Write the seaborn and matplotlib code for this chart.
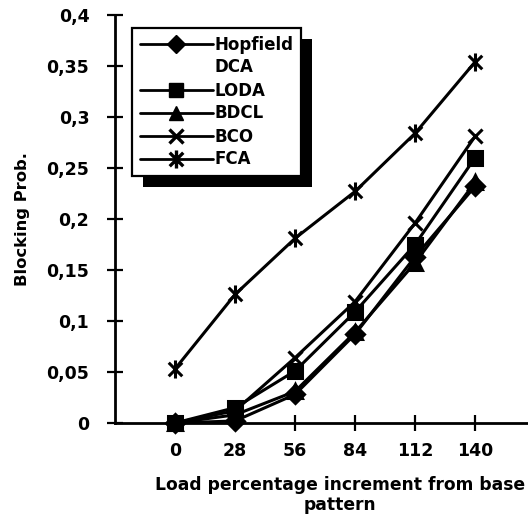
import matplotlib
matplotlib.use('Agg')
import matplotlib.pyplot as plt
import seaborn as sns
from matplotlib.lines import Line2D
from matplotlib.patches import Rectangle
from matplotlib.path import Path
from matplotlib.transforms import IdentityTransform

# ---- data ----
loads = [0, 28, 56, 84, 112, 140]
hopfield_dca = [0.000, 0.002, 0.028, 0.087, 0.163, 0.232]
loda = [0.000, 0.015, 0.051, 0.109, 0.175, 0.260]
bdcl = [0.000, 0.008, 0.031, 0.089, 0.157, 0.236]
bco = [0.000, 0.012, 0.064, 0.119, 0.196, 0.281]
fca = [0.053, 0.126, 0.181, 0.227, 0.284, 0.354]
y_ticks = [0, 0.05, 0.1, 0.15, 0.2, 0.25, 0.3, 0.35, 0.4]
y_tick_labels = ["0", "0,05", "0,1", "0,15", "0,2", "0,25", "0,3", "0,35", "0,4"]

sns.set_theme(style='white')
plt.rcParams['font.family'] = ['DejaVu Sans']
plt.rcParams['text.color'] = 'black'
plt.rcParams['axes.labelcolor'] = 'black'
plt.rcParams['xtick.color'] = 'black'
plt.rcParams['ytick.color'] = 'black'

fig = plt.figure(figsize=(5.28, 5.19), dpi=100)
ax = fig.add_axes([115 / 528, 96 / 519, 413 / 528, 408 / 519])

star = Path([(0, -1), (0, 1), (-0.75, -0.75), (0.75, 0.75), (-0.75, 0.75), (0.75, -0.75)],
            [Path.MOVETO, Path.LINETO, Path.MOVETO, Path.LINETO, Path.MOVETO, Path.LINETO])

series = [
    ("Hopfield DCA", hopfield_dca, 'D', 9),
    ("LODA", loda, 's', 9.5),
    ("BDCL", bdcl, '^', 10.5),
    ("BCO", bco, 'x', 10.5),
    ("FCA", fca, star, 13),
]
for name, vals, mk, ms in series:
    kw = dict(marker=mk, markersize=ms, markeredgewidth=2.2, markeredgecolor='black')
    if mk == 'x' or mk is star:
        kw['markerfacecolor'] = 'none'
    else:
        kw['markerfacecolor'] = 'black'
    sns.lineplot(x=loads, y=vals, color='black', linewidth=2.2, ax=ax, clip_on=False, **kw)

ax.set_xlim(-28, 164.7)
ax.set_ylim(0, 0.4)
ax.set_xticks(loads)
ax.set_xticklabels([str(v) for v in loads], fontsize=12.5, fontweight='bold')
ax.set_yticks(y_ticks)
ax.set_yticklabels(y_tick_labels, fontsize=12.5, fontweight='bold')
ax.tick_params(bottom=True, left=True, direction='inout', length=11, width=1.6, color='black')
ax.tick_params(axis='y', pad=13)
ax.tick_params(axis='x', pad=8)
for s in ['top', 'right']:
    ax.spines[s].set_visible(False)
for s in ['left', 'bottom']:
    ax.spines[s].set_color('black')
    ax.spines[s].set_linewidth(2)

ax.set_ylabel("Blocking Prob.", fontsize=11.8, fontweight='bold')
ax.yaxis.set_label_coords((30 - 115) / 413, 0.5)
ax.set_xlabel("Load percentage increment from base\npattern", fontsize=12.3,
              fontweight='bold', linespacing=1.15)
ax.xaxis.set_label_coords(0.545, -0.13)

handles = [
    Line2D([], [], color='black', lw=2, marker='D', ms=9, mfc='black', mec='black'),
    Line2D([], [], color='none', lw=0),
    Line2D([], [], color='black', lw=2, marker='s', ms=10, mfc='black', mec='black'),
    Line2D([], [], color='black', lw=2, marker='^', ms=10.5, mfc='black', mec='black'),
    Line2D([], [], color='black', lw=2, marker='x', ms=10.5, mew=2.4, mec='black'),
    Line2D([], [], color='black', lw=2, marker=star, ms=13, mew=2.4, mfc='none', mec='black'),
]
labels = ["Hopfield", "DCA", "LODA", "BDCL", "BCO", "FCA"]
leg = ax.legend(handles, labels, loc='upper left', bbox_to_anchor=(132 / 528, 1 - 28 / 519),
                bbox_transform=fig.transFigure, borderaxespad=0, frameon=True, fancybox=False,
                framealpha=1, edgecolor='black', handlelength=4.4, handletextpad=0.1,
                labelspacing=0.3, borderpad=0.45, prop={'weight': 'bold', 'size': 12})
leg.get_frame().set_linewidth(1.6)
leg.set_zorder(6)

fig.canvas.draw()
bb = leg.get_window_extent()
shadow = Rectangle((bb.x0 + 11, bb.y0 - 11), bb.width, bb.height, transform=IdentityTransform(),
                   facecolor='black', edgecolor='none', zorder=5.5)
ax.add_artist(shadow)

fig.savefig('out.png', dpi=100)
